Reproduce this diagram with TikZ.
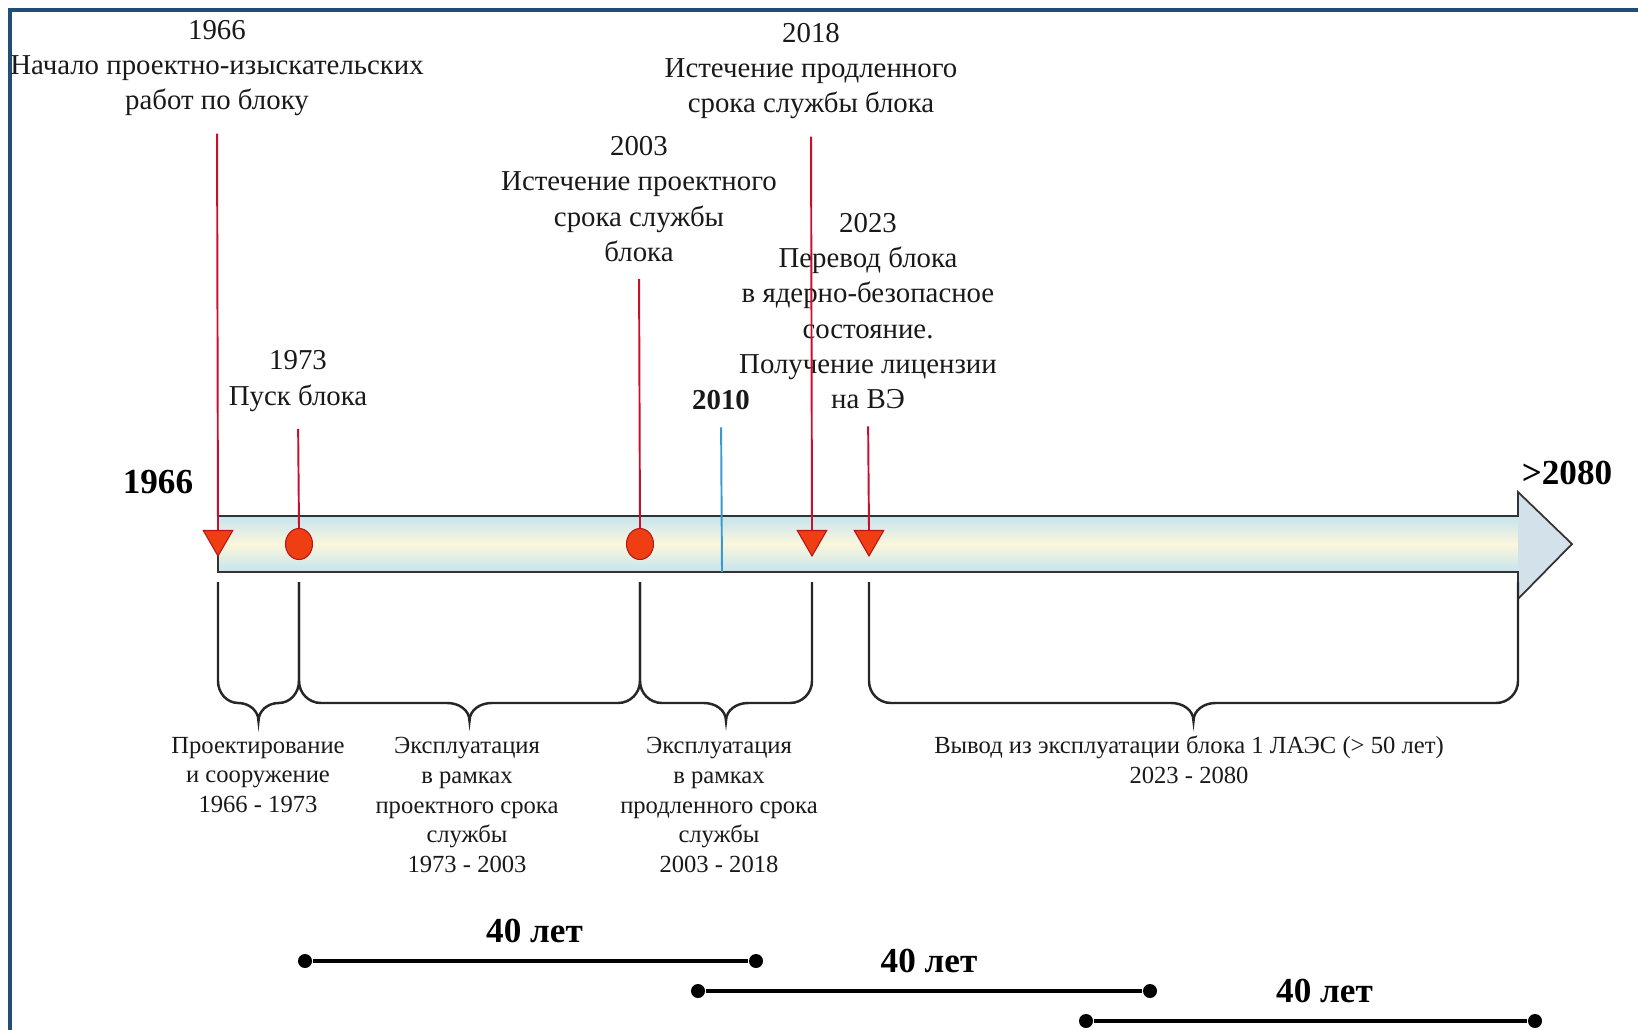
\documentclass[tikz,border=0pt]{standalone}
\usepackage{fontspec}
\setmainfont{Liberation Serif}
\usetikzlibrary{shapes.geometric}
\definecolor{framecol}{HTML}{1F4E79}
\definecolor{markred}{HTML}{EE3E12}
\definecolor{markedge}{HTML}{B4161B}
\definecolor{linered}{HTML}{C8102E}
\definecolor{lineblue}{HTML}{3A9AD0}
\definecolor{barblue}{HTML}{C6E4EE}
\definecolor{baryel}{HTML}{FBF7DC}
\definecolor{headcol}{HTML}{D3E2EA}
\tikzset{
  event/.style={align=center, inner sep=0pt, text=black!90, font=\fontsize{8.2}{10}\selectfont},
  phase/.style={align=center, inner sep=0pt, text=black!90, font=\fontsize{7}{8.5}\selectfont},
  yearmark/.style={inner sep=0pt, font=\bfseries\fontsize{10}{12}\selectfont},
  tri/.style={regular polygon, regular polygon sides=3, shape border rotate=180,
    minimum size=0.34cm, inner sep=0pt, fill=markred, draw=markedge, line width=0.3pt},
  ring/.style={ellipse, minimum width=0.27cm, minimum height=0.31cm, inner sep=0pt,
    fill=markred, draw=markedge, line width=0.3pt},
  pin/.style={linered, line width=0.55pt, shorten <=0.17cm},
  bracket/.style={line width=0.7pt, black!85},
  dot/.style={circle, fill=black, inner sep=0pt, minimum size=0.14cm},
  span/.style={line width=1.3pt},
}
\begin{document}
\begin{tikzpicture}[x=0.01cm,y=-0.01cm]
  \useasboundingbox (0,0) rectangle (1638,1030);
  \draw[framecol, line width=1.1pt] (10,1030) |- (1638,10);

  % time bar
  \shade[top color=barblue, bottom color=barblue, middle color=baryel]
    (218,516) rectangle (1518,572);
  \fill[headcol] (1518,492) -- (1572,544) -- (1518,599) -- cycle;
  \draw[black!80, line width=0.5pt] (218,516) -- (1518,516) -- (1518,492)
    -- (1572,544) -- (1518,599) -- (1518,572) -- (218,572) -- cycle;
  \node[yearmark] (y1966) at (158,482) {1966};
  \node[yearmark] (y2080) at (1567,473) {>2080};

  % events
  \node[event] (l1966) at (217,68) {1966\\Начало проектно-изыскательских\\работ по блоку};
  \node[event] (l1973) at (298,381) {1973\\Пуск блока};
  \node[event] (l2003) at (639,199) {2003\\Истечение проектного\\срока службы\\блока};
  \node[event, font=\bfseries\fontsize{8.2}{10}\selectfont] (l2010) at (721,400) {2010};
  \node[event] (l2018) at (811,71) {2018\\Истечение продленного\\срока службы блока};
  \node[event] (l2023) at (868,311) {2023\\Перевод блока\\в ядерно-безопасное\\состояние.\\Получение лицензии\\на ВЭ};

  \node[tri] (m1966) at (218,539) {};
  \node[ring] (m1973) at (299,544) {};
  \node[ring] (m2003) at (640,544) {};
  \coordinate (m2010) at (722,572);
  \node[tri] (m2018) at (812,539) {};
  \node[tri] (m2023) at (869,539) {};

  \draw[pin] (l1966.south) -- (m1966.north);
  \draw[pin] (l1973.south) -- (m1973.north);
  \draw[pin] (l2003.south) -- (m2003.north);
  \draw[pin, lineblue] (l2010.south) -- (m2010);
  \draw[pin] (l2018.south) -- (m2018.north);
  \draw[pin] (l2023.south) -- (m2023.north);

  % phases
  \foreach \a/\b in {218/299, 299/640, 640/812, 869/1518}{
    \pgfmathsetmacro\m{(\a+\b)/2}
    \pgfmathsetmacro\r{min(22,(\b-\a)/4)}
    \draw[bracket] (\a,582) -- (\a,681) to[out=-90,in=180] (\a+\r,703)
      -- (\m-\r,703) to[out=0,in=90] (\m,721) to[out=90,in=180] (\m+\r,703)
      -- (\b-\r,703) to[out=0,in=-90] (\b,681) -- (\b,582);
  }
  \node[phase] (p1) at (258,775) {Проектирование\\и сооружение\\1966 - 1973};
  \node[phase] (p2) at (467,805) {Эксплуатация\\в рамках\\проектного срока\\службы\\1973 - 2003};
  \node[phase] (p3) at (719,805) {Эксплуатация\\в рамках\\продленного срока\\службы\\2003 - 2018};
  \node[phase] (p4) at (1189,760) {Вывод из эксплуатации блока 1 ЛАЭС (> 50 лет)\\2023 - 2080};

  % 40-year spans
  \node[dot] (s1a) at (305,961) {};
  \node[dot] (s1b) at (756,961) {};
  \node[dot] (s2a) at (698,991) {};
  \node[dot] (s2b) at (1150,991) {};
  \node[dot] (s3a) at (1086,1021) {};
  \node[dot] (s3b) at (1535,1021) {};
  \draw[span] (s1a) -- (s1b) node[midway, above=0.16cm, xshift=0.04cm, yearmark] {40 лет};
  \draw[span] (s2a) -- (s2b) node[midway, above=0.16cm, xshift=0.05cm, yearmark] {40 лет};
  \draw[span] (s3a) -- (s3b) node[midway, above=0.16cm, xshift=0.14cm, yearmark] {40 лет};
\end{tikzpicture}
\end{document}
